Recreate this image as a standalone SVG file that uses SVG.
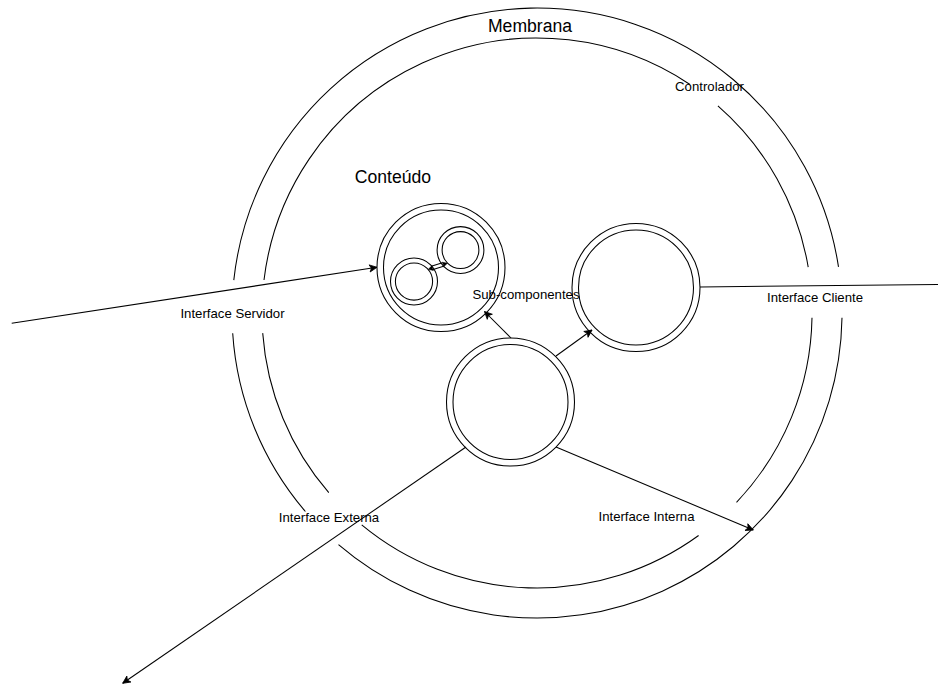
<svg xmlns="http://www.w3.org/2000/svg" width="938" height="684" viewBox="0 0 938 684">
  <style>
    .ln { fill: none; stroke: #000; stroke-width: 1.05; }
    .nd { fill: #fff; stroke: #000; stroke-width: 1.05; }
    .big { font-family: "Liberation Sans", Arial, Helvetica, sans-serif; font-size: 17.6px; fill: #000; text-anchor: middle; }
    .sm { font-family: "Liberation Sans", Arial, Helvetica, sans-serif; font-size: 13.2px; fill: #000; text-anchor: middle; }
  </style>
  <defs>
    <marker id="arr" markerUnits="userSpaceOnUse" orient="auto" refX="0" refY="0" markerWidth="10" markerHeight="10" overflow="visible">
      <path d="M0,0 L-7.5,-3.6 L-5.6,0 L-7.5,3.6 Z" fill="#000" stroke="#000" stroke-width="0.8"/>
    </marker>
  </defs>
  <rect width="938" height="684" fill="#fff"/>

  <!-- membrane: outer and inner rings, drawn as arc segments with openings for the interfaces -->
  <g id="membrane">
    <path class="ln" d="M842,317.8 A305,305 0 0 1 338.5,544.6"/>
    <path class="ln" d="M305.4,511.5 A305,305 0 0 1 232.7,333.2"/>
    <path class="ln" d="M233.8,280.1 A305,305 0 0 1 838.5,266.9"/>
    <path class="ln" d="M812,317.8 A275,275 0 0 1 736.5,502.3"/>
    <path class="ln" d="M698.6,535.5 A275,275 0 0 1 361.7,524.9"/>
    <path class="ln" d="M328.8,492.7 A275,275 0 0 1 262.7,333.1"/>
    <path class="ln" d="M264,280 A275,275 0 0 1 690,84.5"/>
    <path class="ln" d="M717.9,105.9 A275,275 0 0 1 808.2,267.1"/>
    <text class="big" x="530" y="32">Membrana</text>
    <text class="sm" x="709.5" y="91">Controlador</text>
  </g>

  <!-- content compartment -->
  <g id="content">
    <circle class="nd" cx="441" cy="267.5" r="64"/>
    <circle class="nd" cx="441" cy="267.5" r="57.5"/>
    <text class="big" x="393" y="182.7">Conteúdo</text>
  </g>

  <g id="sub-a">
    <circle class="nd" cx="460.5" cy="250" r="23.4"/>
    <circle class="nd" cx="460.5" cy="250" r="18.4"/>
  </g>

  <g id="sub-b">
    <circle class="nd" cx="414" cy="281.5" r="23.5"/>
    <circle class="nd" cx="414" cy="281.5" r="18.6"/>
  </g>

  <g id="client-node">
    <circle class="nd" cx="636" cy="287.5" r="64"/>
    <circle class="nd" cx="636" cy="287.5" r="57.5"/>
  </g>

  <g id="center-node">
    <circle class="nd" cx="510.5" cy="402" r="64"/>
    <circle class="nd" cx="510.5" cy="402" r="57.5"/>
  </g>

  <!-- connectors -->
  <g id="connectors">
    <line class="ln" x1="11.7" y1="323.3" x2="377" y2="267.3" marker-end="url(#arr)"/>
    <text class="sm" x="232.5" y="318">Interface Servidor</text>

    <line class="ln" x1="700" y1="287" x2="938" y2="284.5"/>
    <text class="sm" x="815" y="302">Interface Cliente</text>

    <line class="ln" x1="511" y1="338" x2="484.5" y2="311.5" marker-end="url(#arr)"/>
    <text class="sm" x="526" y="298.5">Sub-componentes</text>

    <line class="ln" x1="556" y1="356" x2="592" y2="330" marker-end="url(#arr)"/>

    <line class="ln" x1="556" y1="447" x2="753.3" y2="530" marker-end="url(#arr)"/>
    <text class="sm" x="646.5" y="520.7">Interface Interna</text>

    <line class="ln" x1="466" y1="447" x2="122.7" y2="683.3" marker-end="url(#arr)"/>
    <text class="sm" x="329" y="521.5">Interface Externa</text>

    <!-- double-line link between the two inner sub-components, arrow at each end -->
    <line class="ln" x1="443.5" y1="266.3" x2="432.4" y2="269.8"/>
    <line class="ln" x1="442.4" y1="262.7" x2="431.3" y2="266.2"/>
    <path d="M428.3,269.3 L433.4,270.4 L432.2,268.1 L432.1,265.6 Z" fill="#000" stroke="#000" stroke-width="0.6"/>
    <path d="M447.3,263.3 L443.5,266.9 L443.4,264.5 L442.3,262.2 Z" fill="#000" stroke="#000" stroke-width="0.6"/>
  </g>
</svg>
